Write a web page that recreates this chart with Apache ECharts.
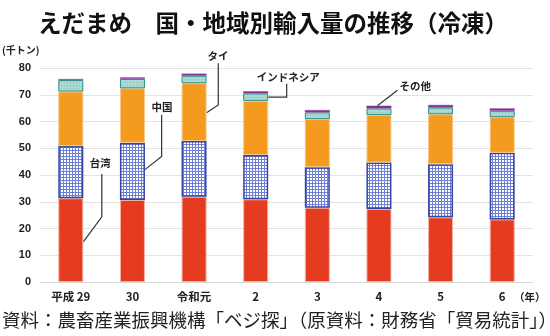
<!DOCTYPE html>
<html>
<head>
<meta charset="utf-8">
<script src="https://cdn.jsdelivr.net/npm/echarts@6/dist/echarts.min.js"></script>
<style>
  html, body { margin: 0; padding: 0; background: #fff; }
  #chart { width: 550px; height: 336px; }
</style>
</head>
<body>
<div id="chart"></div>
<script>
// Years (Japanese era notation)
const categories = ['平成 29', '30', '令和元', '2', '3', '4', '5', '6'];

// Frozen edamame imports by origin, thousand tonnes
const taiwan    = [31.3, 30.7, 31.9, 30.9, 27.8, 27.3, 24.2, 23.4];
const china     = [19.5, 21.4, 20.8, 16.6, 15.1, 17.4, 19.8, 24.9];
const thailand  = [20.4, 20.3, 21.6, 20.2, 18.0, 17.7, 18.7, 13.3];
const indonesia = [4.3, 3.5, 2.8, 2.8, 2.5, 2.5, 2.5, 2.4];
const others    = [0.4, 0.6, 0.8, 0.8, 0.9, 1.0, 1.0, 0.9];

const yTicks = [0, 10, 20, 30, 40, 50, 60, 70, 80];

const JP = '"Noto Sans CJK JP", "Noto Sans", sans-serif';

// Small repeating tiles used as bar fills
function gridTile() {
  const c = document.createElement('canvas');
  c.width = 3; c.height = 3;
  const g = c.getContext('2d');
  g.fillStyle = '#ffffff';
  g.fillRect(0, 0, 3, 3);
  g.fillStyle = '#6f80d4';
  g.fillRect(0, 0, 3, 1);
  g.fillRect(0, 0, 1, 3);
  return c;
}
function dotTile() {
  const c = document.createElement('canvas');
  c.width = 3; c.height = 3;
  const g = c.getContext('2d');
  g.fillStyle = '#a9d9d3';
  g.fillRect(0, 0, 3, 3);
  g.fillStyle = '#86c4bb';
  g.fillRect(1, 1, 1, 1);
  return c;
}

const BAR_W = 25;

function seg(name, data, color, border, bw) {
  return {
    name, type: 'bar', stack: 'total', data, barWidth: BAR_W,
    itemStyle: { color, borderColor: border, borderWidth: bw },
    emphasis: { disabled: true }
  };
}

const chart = echarts.init(document.getElementById('chart'), null, { renderer: 'canvas' });

chart.setOption({
  animation: false,
  grid: { left: 40, right: 17, top: 68, bottom: 54 },
  xAxis: {
    type: 'category',
    data: categories,
    axisLine: { show: true, lineStyle: { color: '#d9d9d9', width: 1 } },
    axisTick: { show: false },
    axisLabel: { color: '#222', fontFamily: JP, fontWeight: 'bold', fontSize: 11.5, margin: 9 }
  },
  yAxis: {
    type: 'value',
    min: yTicks[0], max: yTicks[yTicks.length - 1], interval: 10,
    axisLine: { show: false },
    axisTick: { show: false },
    splitLine: { lineStyle: { color: '#e3e3e3', width: 1 } },
    axisLabel: { color: '#222', fontFamily: 'Liberation Sans, Arial, sans-serif', fontWeight: 'bold', fontSize: 11, margin: 9 }
  },
  series: [
    seg('台湾', taiwan, '#e53b20', '#f6b1a3', 1),
    seg('中国', china, { image: gridTile(), repeat: 'repeat' }, '#3345a5', 1.5),
    seg('タイ', thailand, '#f39a1f', '#f7c88a', 1),
    seg('インドネシア', indonesia, { image: dotTile(), repeat: 'repeat' }, '#2f8f80', 1),
    seg('その他', others, '#7d2b8f', '#9a4fb0', 0.5)
  ]
});

// Leader lines and callouts, anchored on the bars through the axes
function px(cat, val) { return chart.convertToPixel({ gridIndex: 0 }, [cat, val]); }
function stackTop(i, upto) {
  const s = [taiwan, china, thailand, indonesia, others];
  let t = 0;
  for (let k = 0; k <= upto; k++) t += s[k][i];
  return t;
}

const lineStyle = { stroke: '#333', lineWidth: 1.2, fill: null };
const textStyle = (t, x, y, align) => ({
  type: 'text', x, y,
  style: { text: t, fill: '#222', font: 'bold 10.5px ' + JP, textAlign: align || 'center', textVerticalAlign: 'middle' }
});

const g = [];
// 台湾
{
  const e = px(0, 15); const ex = e[0] + BAR_W / 2, ey = e[1];
  g.push({ type: 'polyline', shape: { points: [[ex + 18.5, ey - 68], [ex + 18.5, ey - 25], [ex, ey]] }, style: lineStyle });
  g.push(textStyle('台湾', ex + 17, ey - 79));
}
// 中国
{
  const e = px(1, 42); const ex = e[0] + BAR_W / 2, ey = e[1];
  g.push({ type: 'polyline', shape: { points: [[ex + 16.7, ey - 55], [ex + 16.7, ey - 13.3], [ex, ey]] }, style: lineStyle });
  g.push(textStyle('中国', ex + 17, ey - 63));
}
// タイ
{
  const e = px(2, 63.3); const ex = e[0] + BAR_W / 2, ey = e[1];
  g.push({ type: 'polyline', shape: { points: [[ex + 11.7, ey - 49.5], [ex + 11.7, ey - 7.7], [ex, ey]] }, style: lineStyle });
  g.push(textStyle('タイ', ex + 11.5, ey - 56.5));
}
// インドネシア
{
  const top = stackTop(3, 3), bottom = stackTop(3, 2);
  const e = px(3, (top + bottom) / 2); const ex = e[0] + BAR_W / 2, ey = e[1];
  g.push({ type: 'polyline', shape: { points: [[ex, ey], [ex + 18.5, ey], [ex + 18.5, ey - 13.5]] }, style: lineStyle });
  g.push(textStyle('インドネシア', ex + 20, ey - 20.5));
}
// その他
{
  const e = px(5, stackTop(5, 4)); const ex = e[0] - 1.5, ey = e[1];
  g.push({ type: 'line', shape: { x1: ex, y1: ey, x2: ex + 20, y2: ey - 15.5 }, style: lineStyle });
  g.push(textStyle('その他', ex + 22, ey - 19.5, 'left'));
}

// Title, unit, year suffix and source note
g.push({ type: 'text', x: 38, y: 23, style: { text: 'えだまめ　国・地域別輸入量の推移（冷凍）', fill: '#111', font: 'bold 23.5px ' + JP, textVerticalAlign: 'middle' } });
g.push({ type: 'text', x: 2, y: 50, style: { text: '(千トン)', fill: '#222', font: 'bold 10px ' + JP, textVerticalAlign: 'middle' } });
g.push({ type: 'text', x: 514, y: 297, style: { text: '（年）', fill: '#222', font: 'bold 10.5px ' + JP, textVerticalAlign: 'middle' } });
g.push({ type: 'text', x: 2, y: 320, style: { text: '資料：農畜産業振興機構「ベジ探」（原資料：財務省「貿易統計」）', fill: '#222', font: '18.5px ' + JP, textVerticalAlign: 'middle' } });

chart.setOption({ graphic: { elements: g } });
</script>
</body>
</html>
